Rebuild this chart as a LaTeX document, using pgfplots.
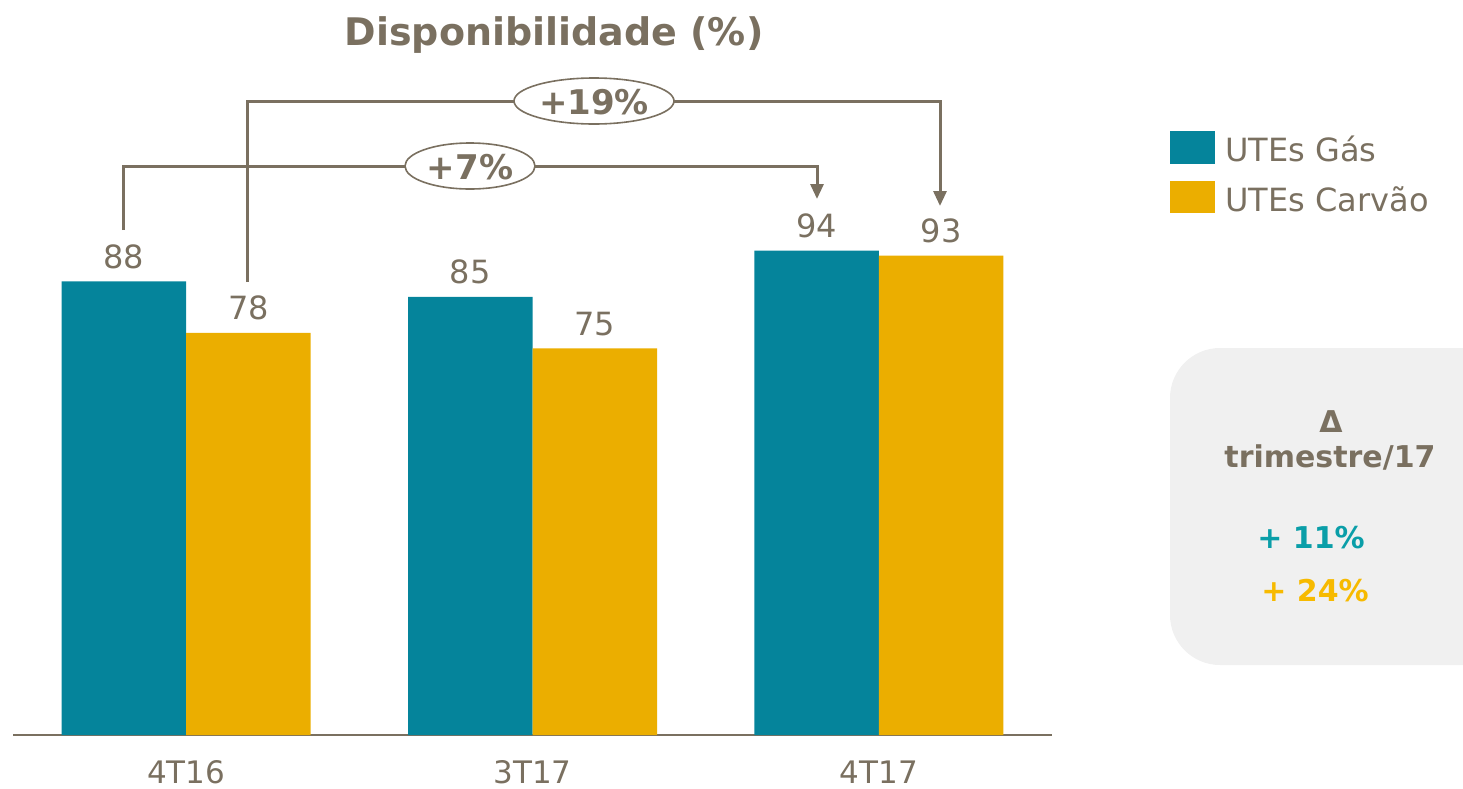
\documentclass[border=0pt]{standalone}
\usepackage{fontspec}
\setmainfont{DejaVu Sans}
\usepackage{pgfplots}
\pgfplotsset{compat=1.18}
\usetikzlibrary{arrows.meta}
\definecolor{gasteal}{HTML}{05849B}
\definecolor{coalgold}{HTML}{EBAE00}
\definecolor{txtgray}{HTML}{7A7060}
\definecolor{boxgray}{HTML}{F0F0F0}
\definecolor{tealtxt}{HTML}{0A9EA8}
\definecolor{goldtxt}{HTML}{F7BA00}

\begin{document}
\begin{tikzpicture}
% grey side box (pixel coordinates, y down)
\begin{scope}[x=0.5pt,y=-0.5pt]
  \begin{scope}
    \clip (0,0) rectangle (1463,788);
    \fill[boxgray, rounded corners=25pt] (1170,348) rectangle (1520,665);
  \end{scope}
\end{scope}

\begin{axis}[
  at={(6.5pt,-367.5pt)}, anchor=south west,
  scale only axis, width=519.5pt, height=367.5pt,
  ybar=0pt, bar width=62.25pt,
  xmin=-0.5, xmax=2.5, ymin=0, ymax=142.6,
  xtick={0,1,2}, xticklabels={4T16,3T17,4T17},
  hide y axis,
  axis x line*=bottom,
  x axis line style={-, draw=txtgray, line width=1pt},
  major tick length=0pt, xtick style={draw=none},
  xticklabel style={font=\fontsize{15.5}{18}\selectfont, text=txtgray, anchor=base, inner sep=0pt, yshift=-24pt},
  /pgf/number format/assume math mode=true,
  nodes near coords,
  nodes near coords style={font=\fontsize{16}{19}\selectfont, text=txtgray, anchor=base, inner sep=0pt, yshift=6.5pt},
  clip=false,
]
\addplot[fill=gasteal, draw=none] coordinates {(0,88) (1,85) (2,94)};
\addplot[fill=coalgold, draw=none] coordinates {(0,78) (1,75) (2,93)};
\end{axis}

\begin{scope}[x=0.5pt,y=-0.5pt]
  % title
  \node[anchor=base, text=txtgray, font=\fontsize{19}{22}\selectfont\bfseries, inner sep=0pt]
    at (554,45) {Disponibilidade (\%)};
  % legend
  \fill[gasteal] (1170,131) rectangle (1215,164);
  \fill[coalgold] (1170,181) rectangle (1215,213);
  \node[anchor=base west, inner sep=0pt, text=txtgray, font=\fontsize{16}{19}\selectfont] at (1225,161) {UTEs Gás};
  \node[anchor=base west, inner sep=0pt, text=txtgray, font=\fontsize{16}{19}\selectfont] at (1225,211) {UTEs Carvão};
  % brackets
  \draw[txtgray, line width=1.5pt, -{Triangle[width=6.5pt,length=7.5pt]}]
    (123,230) -- (123,166) -- (817,166) -- (817,199);
  \draw[txtgray, line width=1.5pt, -{Triangle[width=6.5pt,length=7.5pt]}]
    (247,282) -- (247,101) -- (940,101) -- (940,206);
  \draw[txtgray, line width=0.8pt, fill=white] (470,166) ellipse [x radius=65, y radius=23];
  \draw[txtgray, line width=0.8pt, fill=white] (594,101) ellipse [x radius=80, y radius=23];
  \node[text=txtgray, font=\fontsize{17}{20}\selectfont\bfseries] at (470,167) {+7\%};
  \node[text=txtgray, font=\fontsize{17}{20}\selectfont\bfseries] at (594,102) {+19\%};
  % side box text
  \node[anchor=base, inner sep=0pt, text=txtgray, font=\fontsize{15}{18}\selectfont\bfseries] at (1331,432) {Δ};
  \node[anchor=base, inner sep=0pt, text=txtgray, font=\fontsize{15}{18}\selectfont\bfseries] at (1330,467) {trimestre/17};
  \node[anchor=base, inner sep=0pt, text=tealtxt, font=\fontsize{15}{18}\selectfont\bfseries] at (1311,548) {+ 11\%};
  \node[anchor=base, inner sep=0pt, text=goldtxt, font=\fontsize{15}{18}\selectfont\bfseries] at (1315,601) {+ 24\%};
\end{scope}
\pgfresetboundingbox
\path[use as bounding box] (0pt,0pt) rectangle (731.5pt,-394pt);
\end{tikzpicture}
\end{document}
